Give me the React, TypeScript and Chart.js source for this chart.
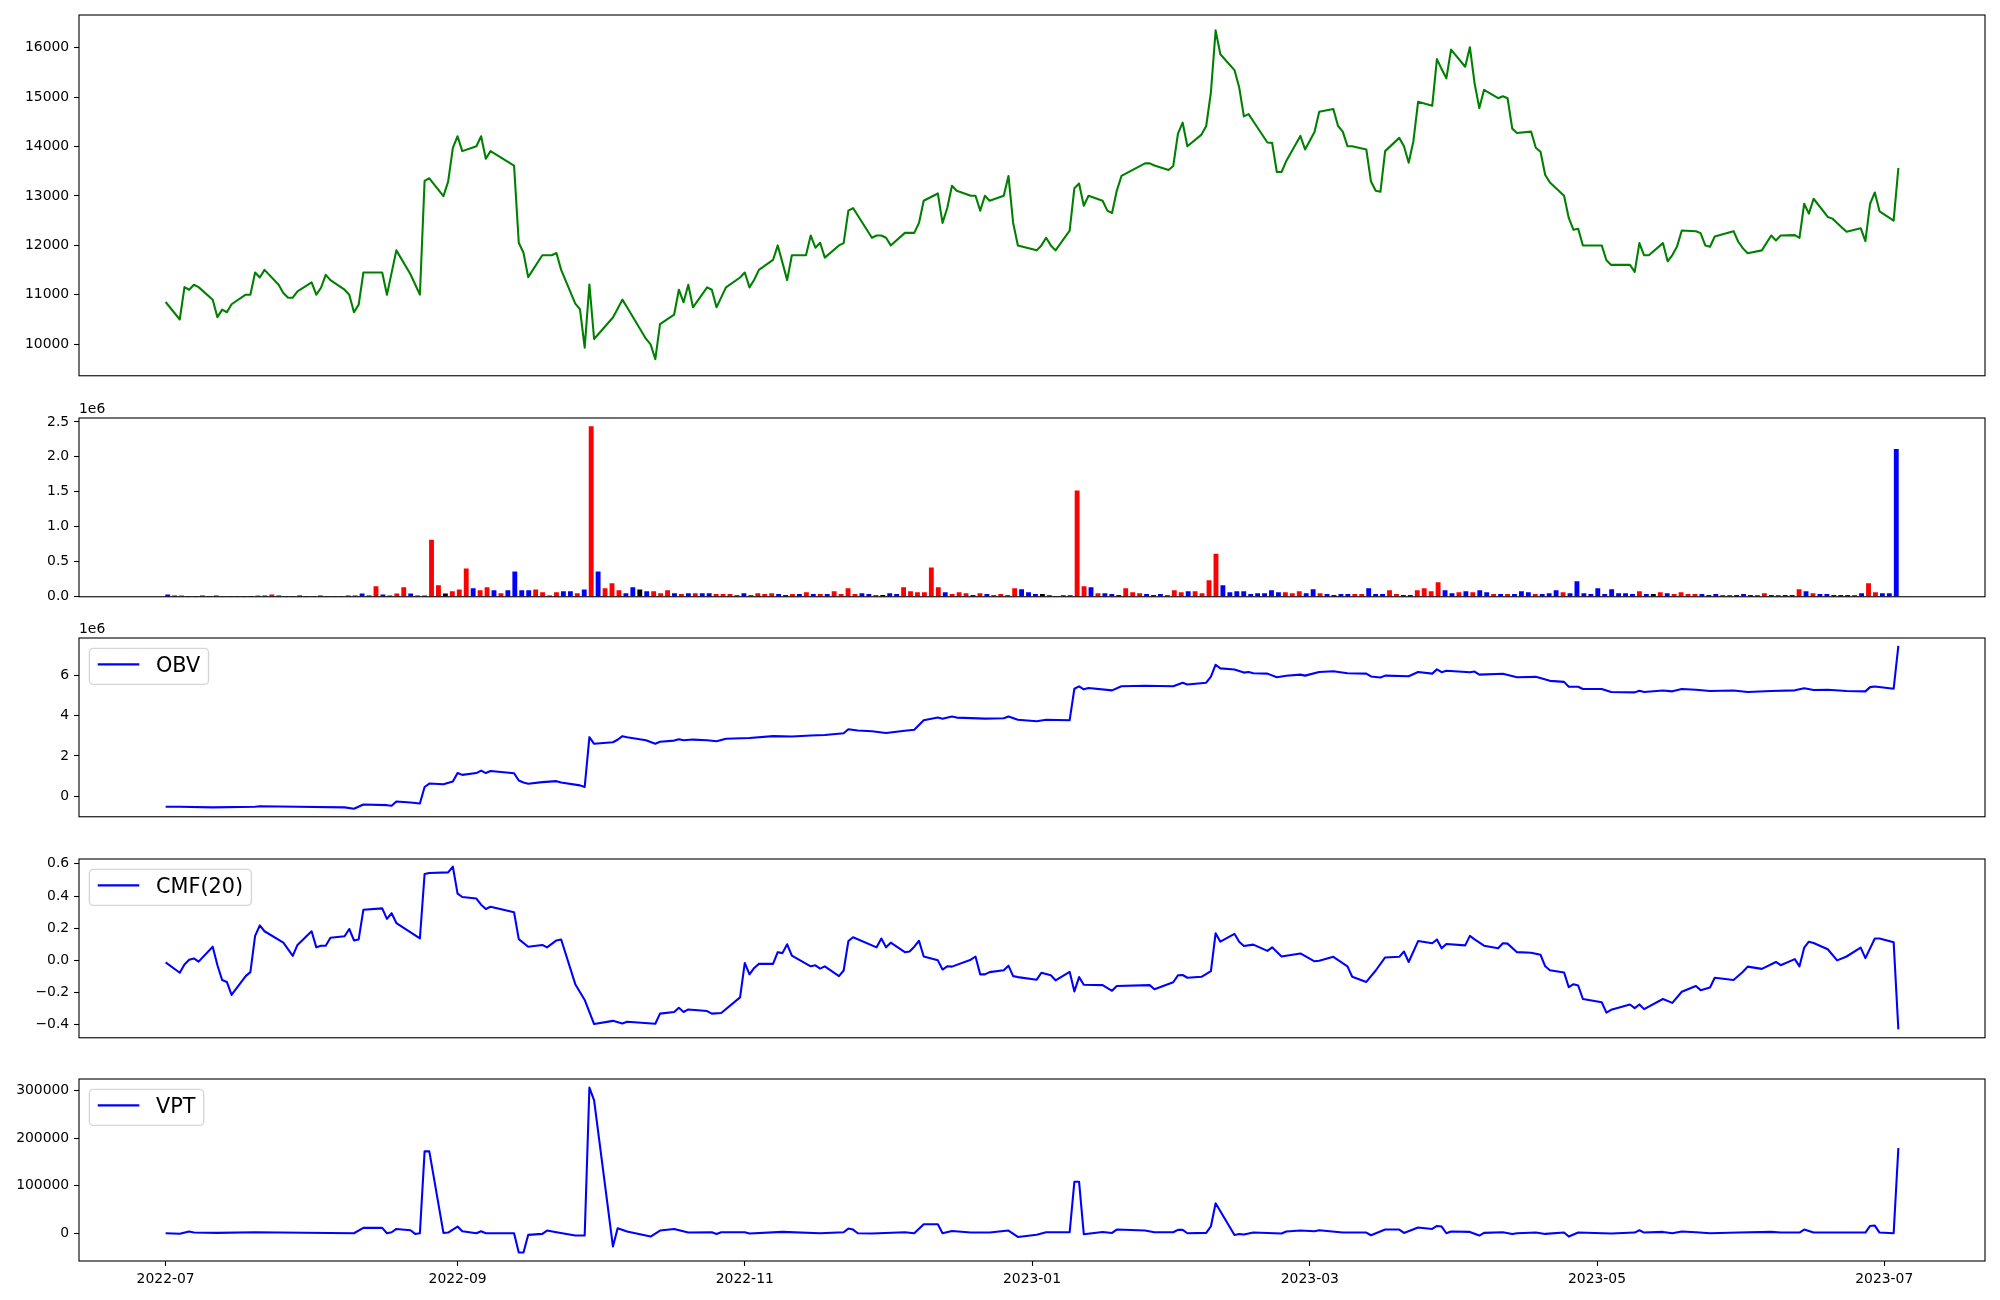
import React, { useEffect, useRef } from 'react';
import { Chart, registerables } from 'chart.js';

Chart.register(...registerables);

// ---------------- calendar (trading days, KRX) ----------------
const firstDate = '2022-07-01';
const lastDate = '2023-07-04';
const holidays = [
  '2022-08-15', '2022-09-09', '2022-09-12', '2022-10-03', '2022-10-10', '2022-12-30',
  '2023-01-23', '2023-01-24', '2023-03-01', '2023-05-01', '2023-05-05', '2023-05-29', '2023-06-06',
];
const xTickDates = ['2022-07-01', '2022-09-01', '2022-11-01', '2023-01-01', '2023-03-01', '2023-05-01', '2023-07-01'];
const xTickLabels = ['2022-07', '2022-09', '2022-11', '2023-01', '2023-03', '2023-05', '2023-07'];

// ---------------- close price (one per trading day) ----------------
const closePrice = [
  10856, 10502, 11157, 11104, 11204, 11157, 10903, 10549, 10702, 10649,
  10810, 11004, 11004, 11452, 11351, 11505, 11204, 11037, 10943, 10943,
  11070, 11251, 11004, 11144, 11405, 11298, 11104, 11004, 10649, 10803,
  11452, 11452, 11004, 11450, 11900, 11418, 11210, 11004, 13305, 13358,
  12997, 13291, 13974, 14208, 13907, 14007, 14208, 13753, 13907, 13613,
  12054, 11853, 11358, 11800, 11800, 11800, 11846, 11505, 10823, 10709,
  9933, 11211, 10107, 10542, 10720, 10903, 10749, 10114, 10000, 9699,
  10408, 10602, 11104, 10850, 11204, 10749, 11151, 11104, 10749, 10950,
  11151, 11351, 11452, 11151, 11305, 11505, 11706, 12000, 11652, 11298,
  11800, 11800, 12201, 11953, 12054, 11753, 12000, 12047, 12703, 12756,
  12606, 12154, 12201, 12201, 12154, 12000, 12254, 12254, 12254, 12455,
  12903, 13051, 12455, 12756, 13205, 13104, 13004, 13004, 12703, 13004,
  12903, 13004, 13405, 12455, 12000, 11900, 12000, 12154, 12000, 11900,
  12301, 13158, 13251, 12803, 13004, 12903, 12703, 12656, 13104, 13405,
  13659, 13659, 13615, 13526, 13606, 14262, 14482, 14007, 14241, 14415,
  15098, 16349, 15867, 15546, 15198, 14609, 14656, 14512, 14081, 14074,
  13485, 13485, 13706, 14215, 13940, 14295, 14703, 14757, 14415, 14300,
  14007, 14007, 13940, 13291, 13104, 13084, 13907, 14175, 14007, 13673,
  14108, 14904, 14823, 15767, 15566, 15379, 15961, 15613, 16008, 15278,
  14777, 15145, 14977, 15018, 14977, 14362, 14275, 14302, 13974, 13894,
  13425, 13271, 13004, 12556, 12315, 12335, 12000, 12000, 11699, 11606,
  11606, 11465, 12047, 11800, 11800, 12047, 11679, 11806, 11980, 12301,
  12288, 12248, 12000, 11974, 12181, 12288, 12074, 11940, 11840, 11900,
  12201, 12101, 12201, 12208, 12154, 12843, 12643, 12944, 12576, 12542,
  12453, 12364, 12275, 12348, 12087, 12843, 13071, 12689, 12502, 13566,
];

// ---------------- volume (one per trading day, drawn by position) ----------------
const volume = [
  28000, 14000, 14000, 0, 0, 14000, 0, 14000, 0, 0,
  0, 0, 0, 14000, 14000, 28000, 14000, 0, 0, 14000,
  0, 0, 14000, 0, 0, 0, 14000, 14000, 42000, 14000,
  146000, 28000, 14000, 42000, 132000, 42000, 14000, 14000, 810000, 160000,
  42000, 75000, 99000, 400000, 118000, 89000, 132000, 89000, 47000, 89000,
  358000, 89000, 89000, 99000, 61000, 14000, 61000, 75000, 75000, 47000,
  99000, 2434000, 358000, 118000, 188000, 89000, 47000, 132000, 99000, 75000,
  75000, 47000, 89000, 47000, 33000, 47000, 47000, 47000, 47000, 33000,
  33000, 33000, 19000, 47000, 19000, 47000, 33000, 47000, 33000, 19000,
  33000, 33000, 61000, 33000, 33000, 33000, 75000, 33000, 118000, 33000,
  47000, 33000, 19000, 19000, 47000, 33000, 132000, 75000, 61000, 61000,
  414000, 132000, 61000, 33000, 61000, 47000, 19000, 47000, 33000, 19000,
  33000, 19000, 118000, 104000, 61000, 33000, 33000, 19000, 0, 19000,
  19000, 1516000, 146000, 132000, 47000, 47000, 33000, 19000, 118000, 61000,
  47000, 33000, 19000, 33000, 19000, 89000, 61000, 75000, 75000, 47000,
  231000, 612000, 160000, 61000, 75000, 75000, 33000, 47000, 47000, 89000,
  61000, 61000, 47000, 75000, 47000, 104000, 47000, 33000, 19000, 33000,
  33000, 33000, 33000, 118000, 33000, 33000, 89000, 33000, 19000, 19000,
  89000, 118000, 75000, 202000, 89000, 47000, 61000, 75000, 61000, 89000,
  61000, 33000, 33000, 33000, 33000, 75000, 61000, 33000, 33000, 47000,
  89000, 61000, 47000, 217000, 47000, 33000, 118000, 33000, 104000, 47000,
  47000, 33000, 75000, 33000, 33000, 61000, 47000, 33000, 61000, 33000,
  33000, 33000, 19000, 33000, 19000, 19000, 19000, 33000, 19000, 19000,
  47000, 19000, 19000, 19000, 19000, 104000, 75000, 47000, 33000, 33000,
  19000, 19000, 19000, 19000, 47000, 188000, 61000, 47000, 47000, 2109000,
];
// 1 = up (red), -1 = down (blue), 0 = unchanged (black)
const volumeDir = [
  -1, -1, 1, 0, 0, -1, 0, -1, 0, 0,
  0, 0, 0, 1, -1, 1, -1, 0, 0, 0,
  0, 0, -1, 0, 0, 0, -1, -1, -1, 0,
  1, -1, -1, 1, 1, -1, -1, -1, 1, 1,
  0, 1, 1, 1, -1, 1, 1, -1, 1, -1,
  -1, -1, -1, 1, 1, -1, 1, -1, -1, 1,
  -1, 1, -1, 1, 1, 1, -1, -1, 0, -1,
  1, 1, 1, -1, 1, -1, 1, -1, -1, 1,
  1, 1, 1, -1, 1, 1, 1, 1, -1, -1,
  1, -1, 1, -1, 1, -1, 1, 1, 1, 1,
  -1, -1, 1, 0, -1, -1, 1, 1, 1, 1,
  1, 1, -1, 1, 1, 1, -1, 1, -1, 1,
  1, 1, 1, -1, -1, -1, 0, 1, 0, 1,
  1, 1, 1, -1, 1, -1, -1, -1, 1, 1,
  1, -1, -1, -1, 1, 1, 1, -1, 1, 1,
  1, 1, -1, -1, -1, -1, -1, -1, -1, -1,
  -1, 1, 1, 1, -1, -1, 1, -1, -1, -1,
  -1, 1, 1, -1, -1, -1, 1, 1, -1, -1,
  1, 1, 1, 1, -1, -1, 1, -1, 1, -1,
  -1, 1, -1, 1, -1, -1, -1, 1, -1, -1,
  -1, 1, -1, -1, -1, -1, -1, -1, -1, -1,
  -1, -1, 1, -1, 0, 1, -1, 1, 1, 1,
  1, -1, -1, -1, 1, 1, -1, -1, -1, 1,
  1, -1, 1, -1, -1, 1, -1, 1, -1, -1,
  -1, -1, -1, 1, -1, 1, 1, -1, -1, -1,
];

// ---------------- OBV (trading-day index, value) ----------------
const obvIdx = [
  0, 1, 6, 13, 14, 20, 26, 28, 30, 32, 33, 34, 35, 37, 38, 39, 40, 42, 43, 44,
  45, 46, 47, 48, 49, 50, 51, 52, 53, 56, 57, 59, 60, 61, 62, 63, 64, 65, 66, 67,
  69, 70, 71, 72, 73, 75, 76, 78, 80, 83, 86, 90, 92, 95, 97, 98, 100, 101, 104, 106,
  108, 110, 111, 112, 114, 115, 119, 121, 122, 124, 125, 127, 130, 131, 132, 133, 134, 137, 139, 140,
  144, 146, 147, 149, 150, 151, 152, 153, 155, 156, 157, 158, 160, 162, 163, 164, 166, 167, 170, 172,
  173, 175, 176, 179, 181, 182, 183, 184, 185, 188, 189, 190, 193, 196, 198, 201, 202, 203, 205, 206,
  207, 209, 211, 212, 213, 215, 217, 219, 220, 223, 225, 228, 230, 233, 235, 237, 238, 242, 244, 245,
  246, 248, 249,
];
const obvVal = [
  -520000, -520000, -550000, -520000, -490000, -520000, -550000, -620000, -410000, -440000,
  -470000, -260000, -310000, -360000, 460000, 630000, 600000, 730000, 1150000, 1060000,
  1150000, 1270000, 1150000, 1250000, 1140000, 780000, 680000, 620000, 700000, 750000,
  680000, 540000, 460000, 2930000, 2600000, 2680000, 2800000, 2980000, 2930000, 2780000,
  2600000, 2700000, 2760000, 2830000, 2780000, 2810000, 2780000, 2730000, 2850000, 2890000,
  2980000, 2960000, 3010000, 3040000, 3120000, 3320000, 3260000, 3220000, 3140000, 3250000,
  3300000, 3770000, 3900000, 3840000, 3950000, 3900000, 3850000, 3870000, 3950000, 3790000,
  3720000, 3790000, 3770000, 5330000, 5450000, 5300000, 5370000, 5250000, 5450000, 5480000,
  5450000, 5630000, 5540000, 5630000, 5930000, 6520000, 6340000, 6280000, 6130000, 6160000,
  6100000, 6080000, 5900000, 5970000, 6030000, 5980000, 6160000, 6200000, 6100000, 6080000,
  5940000, 5890000, 5980000, 5950000, 6160000, 6080000, 6290000, 6150000, 6220000, 6150000,
  6180000, 6030000, 6070000, 5900000, 5920000, 5720000, 5670000, 5430000, 5430000, 5320000,
  5320000, 5170000, 5150000, 5230000, 5170000, 5240000, 5200000, 5320000, 5280000, 5220000,
  5240000, 5170000, 5220000, 5250000, 5350000, 5270000, 5280000, 5220000, 5200000, 5410000,
  5440000, 5330000, 7450000,
];

// ---------------- CMF(20) ----------------
const cmfIdx = [
  0, 1, 2, 3, 4, 5, 6, 7, 8, 9, 10, 11, 12, 13, 14, 15, 17, 19, 20, 21,
  22, 23, 24, 25, 26, 27, 28, 29, 30, 31, 32, 33, 34, 37, 38, 39, 41, 42, 43, 44,
  45, 46, 47, 48, 49, 50, 52, 53, 54, 56, 57, 58, 60, 62, 63, 65, 66, 69, 70, 71,
  72, 73, 74, 76, 77, 79, 81, 82, 83, 84, 85, 86, 87, 88, 89, 90, 92, 93, 94, 95,
  96, 97, 98, 99, 102, 103, 104, 105, 106, 107, 108, 109, 110, 111, 112, 113, 114, 116, 117, 118,
  119, 120, 121, 122, 123, 124, 125, 126, 128, 129, 130, 131, 132, 133, 135, 137, 138, 141, 142, 144,
  145, 146, 147, 148, 150, 151, 152, 153, 154, 155, 157, 158, 159, 161, 163, 165, 166, 167, 170, 171,
  172, 174, 176, 177, 178, 179, 181, 182, 183, 184, 185, 187, 188, 189, 191, 192, 193, 194, 196, 197,
  199, 200, 201, 202, 203, 204, 205, 206, 207, 208, 209, 210, 211, 212, 213, 215, 217, 219, 220, 221,
  223, 224, 225, 227, 228, 229, 231, 232, 233, 234, 235, 236, 237, 238, 240, 242, 243, 244, 246, 247,
  248, 249,
];
const cmfVal = [
  -0.012, -0.077, -0.026, 0.004, 0.012, -0.008, 0.085, -0.03, -0.122, -0.134,
  -0.215, -0.098, -0.073, 0.152, 0.217, 0.181, 0.110, 0.028, 0.096, 0.181,
  0.081, 0.091, 0.091, 0.140, 0.150, 0.195, 0.124, 0.130, 0.315, 0.323,
  0.258, 0.293, 0.232, 0.136, 0.537, 0.543, 0.547, 0.583, 0.415, 0.394,
  0.384, 0.346, 0.319, 0.333, 0.299, 0.132, 0.085, 0.096, 0.081, 0.124,
  0.130, -0.148, -0.246, -0.396, -0.376, -0.392, -0.382, -0.394, -0.331, -0.321,
  -0.295, -0.321, -0.305, -0.315, -0.331, -0.327, -0.230, -0.016, -0.087, -0.047,
  -0.022, -0.022, 0.051, 0.045, 0.100, 0.030, -0.037, -0.031, -0.051, -0.037,
  -0.098, -0.063, 0.120, 0.144, 0.081, 0.136, 0.081, 0.110, 0.051, 0.055,
  0.085, 0.122, 0.024, 0.0, -0.057, -0.037, -0.039, 0.004, 0.024, -0.087,
  -0.087, -0.073, -0.061, -0.033, -0.098, -0.104, -0.120, -0.077, -0.093, -0.124,
  -0.071, -0.193, -0.104, -0.152, -0.154, -0.189, -0.159, -0.154, -0.179, -0.136,
  -0.093, -0.091, -0.108, -0.102, -0.067, 0.169, 0.116, 0.165, 0.116, 0.089,
  0.098, 0.059, 0.081, 0.024, 0.043, -0.006, -0.002, 0.022, -0.037, -0.102,
  -0.134, -0.063, 0.018, 0.022, 0.055, -0.010, 0.120, 0.106, 0.130, 0.075,
  0.102, 0.093, 0.152, 0.130, 0.091, 0.075, 0.106, 0.104, 0.051, 0.047,
  0.035, -0.037, -0.061, -0.075, -0.167, -0.148, -0.156, -0.240, -0.260, -0.325,
  -0.307, -0.274, -0.297, -0.274, -0.303, -0.240, -0.264, -0.195, -0.159, -0.185,
  -0.169, -0.108, -0.122, -0.071, -0.039, -0.053, -0.010, -0.030, 0.008, -0.037,
  0.079, 0.116, 0.108, 0.069, 0.0, 0.024, 0.079, 0.014, 0.136, 0.136,
  0.112, -0.429,
];

// ---------------- VPT ----------------
const vptIdx = [
  0, 1, 3, 4, 7, 13, 28, 30, 31, 32, 33, 34, 35, 36, 37, 38, 39, 40, 41, 43,
  44, 45, 46, 47, 49, 50, 51, 52, 53, 54, 56, 58, 60, 61, 62, 63, 64, 66, 68, 70,
  71, 74, 77, 78, 79, 82, 83, 88, 94, 97, 98, 99, 100, 101, 106, 108, 110, 111, 112, 114,
  116, 120, 122, 124, 125, 127, 130, 131, 132, 133, 135, 137, 138, 140, 142, 144, 145, 146, 147, 149,
  150, 151, 153, 154, 155, 157, 161, 162, 163, 165, 166, 169, 172, 173, 176, 177, 178, 181, 182, 183,
  184, 185, 186, 188, 190, 191, 193, 195, 196, 198, 200, 202, 203, 205, 209, 211, 212, 213, 215, 217,
  219, 220, 223, 226, 230, 232, 234, 235, 237, 239, 244, 245, 246, 247, 248, 249,
];
const vptVal = [
  0, -1000, 3500, 1400, 700, 2000, 0, 11200, 11200, 0,
  2100, 9000, 6300, -1400, 0, 172000, 172000, 700, 1400, 14000,
  4000, 0, 4200, 0, 0, -40600, -40600, -3500, -1400, 5600,
  2100, -4900, -4900, 306000, 279000, -28000, 10500, 3500, -7000, 5600,
  9000, 1400, 2100, -1400, 2100, 2100, -700, 2800, 0, 2100,
  9800, 7700, 0, -700, 2100, 0, 18900, 18900, 0, 4900,
  1400, 1400, 5600, -7700, -3000, 2100, 2100, 108000, 108000, -2000,
  2800, 700, 7700, 5600, 2100, 2100, 7000, 7000, 0, 700,
  14700, 63000, -3500, -1400, -2800, 1400, -700, 3500, 5600, 4200,
  6300, 1400, 1400, -4200, 7700, 7700, 700, 11900, 9100, 15400,
  14000, 0, 3500, 2800, -4900, 700, 2100, -1400, 0, 1400,
  -1400, 1400, -7000, 1400, -700, 1400, 6300, 1400, 2800, 0,
  3500, 2100, 0, 1400, 2800, 1400, 1400, 7700, 1400, 1400,
  1400, 15400, 16100, 1400, 0, 179000,
];

// ---------------- helpers ----------------
const DAY_MS = 86400000;
const T0 = Date.parse(firstDate + 'T00:00:00Z');
const dayOf = (s: string) => Math.round((Date.parse(s + 'T00:00:00Z') - T0) / DAY_MS);

function buildTradingDays(): number[] {
  const hol = new Set(holidays.map(dayOf));
  const end = dayOf(lastDate);
  const out: number[] = [];
  for (let d = 0; d <= end; d++) {
    const wd = new Date(T0 + d * DAY_MS).getUTCDay();
    if (wd === 0 || wd === 6 || hol.has(d)) continue;
    out.push(d);
  }
  return out;
}

const X_MIN = -18.4;
const X_MAX = 386.4;
// volume panel is drawn against the bar position (0..N-1)
const BAR_X_MIN = -12.78;
const BAR_X_MAX = 261.78;
const Y_AXIS_W = 79;
const RIGHT_PAD = 15;
const FONT = 'DejaVu Sans';
const TICK_FONT = { family: FONT, size: 13.9 };
const LEGEND_FS = 20.8;

const PANELS = [
  { top: 15, h: 364, padTop: 15, padBottom: 10 },
  { top: 418, h: 182, padTop: 30, padBottom: 10 },
  { top: 638, h: 182, padTop: 30, padBottom: 10 },
  { top: 859, h: 182, padTop: 30, padBottom: 10 },
  { top: 1079, h: 182, padTop: 30, padBottom: 40 },
];

const framePlugin = {
  id: 'frame',
  afterDraw(chart: any) {
    const { ctx, chartArea: a } = chart;
    ctx.save();
    ctx.strokeStyle = '#000';
    ctx.lineWidth = 1.1;
    ctx.strokeRect(a.left, a.top, a.right - a.left, a.bottom - a.top);
    ctx.restore();
  },
};

function offsetTextPlugin(text: string) {
  return {
    id: 'offsetText',
    afterDraw(chart: any) {
      const { ctx, chartArea: a } = chart;
      ctx.save();
      ctx.font = `13.9px "${FONT}"`;
      ctx.fillStyle = '#000';
      ctx.textAlign = 'left';
      ctx.textBaseline = 'alphabetic';
      ctx.fillText(text, a.left, a.top - 5.3);
      ctx.restore();
    },
  };
}

function boxLegendPlugin(label: string, color: string) {
  return {
    id: 'boxLegend',
    afterDraw(chart: any) {
      const { ctx, chartArea: a } = chart;
      const fs = LEGEND_FS;
      ctx.save();
      ctx.font = `${fs}px "${FONT}"`;
      const tw = ctx.measureText(label).width;
      const x = a.left + 0.5 * fs;
      const y = a.top + 0.5 * fs;
      const w = 0.4 * fs + 2 * fs + 0.8 * fs + tw + 0.4 * fs;
      const h = 36;
      const r = 4;
      ctx.beginPath();
      ctx.moveTo(x + r, y);
      ctx.lineTo(x + w - r, y);
      ctx.arcTo(x + w, y, x + w, y + r, r);
      ctx.lineTo(x + w, y + h - r);
      ctx.arcTo(x + w, y + h, x + w - r, y + h, r);
      ctx.lineTo(x + r, y + h);
      ctx.arcTo(x, y + h, x, y + h - r, r);
      ctx.lineTo(x, y + r);
      ctx.arcTo(x, y, x + r, y, r);
      ctx.closePath();
      ctx.fillStyle = 'rgba(255,255,255,0.8)';
      ctx.fill();
      ctx.strokeStyle = 'rgba(204,204,204,0.8)';
      ctx.lineWidth = 1.4;
      ctx.stroke();
      const cy = y + 16;
      const hx = x + 0.4 * fs;
      ctx.beginPath();
      ctx.moveTo(hx, cy);
      ctx.lineTo(hx + 2 * fs, cy);
      ctx.strokeStyle = color;
      ctx.lineWidth = 2.08;
      ctx.stroke();
      ctx.fillStyle = '#000';
      ctx.textAlign = 'left';
      ctx.textBaseline = 'alphabetic';
      ctx.fillText(label, hx + 2 * fs + 0.8 * fs, cy + 0.365 * fs);
      ctx.restore();
    },
  };
}

function yScale(min: number, max: number, ticks: number[], fmt: (v: number) => string) {
  return {
    type: 'linear',
    position: 'left',
    min,
    max,
    afterFit: (s: any) => {
      s.width = Y_AXIS_W;
    },
    afterBuildTicks: (s: any) => {
      s.ticks = ticks.map((v) => ({ value: v }));
    },
    ticks: {
      callback: (v: any) => fmt(Number(v)),
      font: TICK_FONT,
      color: '#000',
      padding: 4.9,
      autoSkip: false,
    },
    grid: {
      display: true,
      drawOnChartArea: false,
      drawTicks: true,
      tickLength: 4.9,
      tickWidth: 1.1,
      tickColor: '#000',
      color: '#000',
    },
    border: { display: false },
  };
}

function hiddenX(min: number, max: number) {
  return { type: 'linear', min, max, display: false, offset: false };
}

function bottomX() {
  const tickDays = xTickDates.map(dayOf);
  return {
    type: 'linear',
    position: 'bottom',
    min: X_MIN,
    max: X_MAX,
    offset: false,
    afterFit: (s: any) => {
      s.height = 40;
    },
    afterBuildTicks: (s: any) => {
      s.ticks = tickDays.map((v) => ({ value: v }));
    },
    ticks: {
      callback: (_v: any, i: number) => xTickLabels[i],
      font: TICK_FONT,
      color: '#000',
      padding: 4.9,
      autoSkip: false,
      maxRotation: 0,
      minRotation: 0,
    },
    grid: {
      display: true,
      drawOnChartArea: false,
      drawTicks: true,
      tickLength: 4.9,
      tickWidth: 1.1,
      tickColor: '#000',
      color: '#000',
      offset: false,
    },
    border: { display: false },
  };
}

function baseOptions(p: { padTop: number; padBottom: number }, isBottom: boolean, x: any, y: any) {
  return {
    responsive: false,
    animation: false,
    devicePixelRatio: 1,
    events: [],
    layout: { padding: { left: 0, right: RIGHT_PAD, top: p.padTop, bottom: isBottom ? 0 : p.padBottom } },
    plugins: { legend: { display: false }, tooltip: { enabled: false } },
    scales: { x, y },
  };
}

const lineDs = (label: string, pts: { x: number; y: number }[], color: string) => ({
  type: 'line',
  label,
  data: pts,
  borderColor: color,
  backgroundColor: color,
  borderWidth: 2.08,
  pointRadius: 0,
  pointHoverRadius: 0,
  tension: 0,
  fill: false,
  borderJoinStyle: 'round',
  borderCapStyle: 'butt',
});

export default function App() {
  const r0 = useRef<HTMLCanvasElement>(null);
  const r1 = useRef<HTMLCanvasElement>(null);
  const r2 = useRef<HTMLCanvasElement>(null);
  const r3 = useRef<HTMLCanvasElement>(null);
  const r4 = useRef<HTMLCanvasElement>(null);
  const refs = [r0, r1, r2, r3, r4];

  useEffect(() => {
    const days = buildTradingDays();
    const charts: Chart[] = [];

    const pricePts = closePrice.map((v, i) => ({ x: days[i], y: v }));
    const volPts = volume.map((v, i) => ({ x: i, y: v }));
    const volColors = volumeDir.map((d) => (d > 0 ? '#ff0000' : d < 0 ? '#0000ff' : '#000000'));
    const obvPts = obvIdx.map((k, i) => ({ x: days[k], y: obvVal[i] }));
    const cmfPts = cmfIdx.map((k, i) => ({ x: days[k], y: cmfVal[i] }));
    const vptPts = vptIdx.map((k, i) => ({ x: days[k], y: vptVal[i] }));

    const minus = (s: string) => s.replace('-', '\u2212');

    // Panel 1: price
    charts.push(
      new Chart(r0.current as HTMLCanvasElement, {
        type: 'line',
        data: { datasets: [lineDs('Close', pricePts, '#008000') as any] },
        options: baseOptions(
          PANELS[0],
          false,
          hiddenX(X_MIN, X_MAX),
          yScale(9364, 16660, [10000, 11000, 12000, 13000, 14000, 15000, 16000], (v) => String(v)),
        ) as any,
        plugins: [framePlugin],
      }),
    );

    // Panel 2: volume bars
    charts.push(
      new Chart(r1.current as HTMLCanvasElement, {
        type: 'bar',
        data: {
          datasets: [
            {
              label: 'Volume',
              data: volPts as any,
              backgroundColor: volColors,
              borderWidth: 0,
              barThickness: 4.2,
            } as any,
          ],
        },
        options: baseOptions(
          PANELS[1],
          false,
          hiddenX(BAR_X_MIN, BAR_X_MAX),
          yScale(0, 2556000, [0, 500000, 1000000, 1500000, 2000000, 2500000], (v) => (v / 1e6).toFixed(1)),
        ) as any,
        plugins: [framePlugin, offsetTextPlugin('1e6')],
      }),
    );

    // Panel 3: OBV
    charts.push(
      new Chart(r2.current as HTMLCanvasElement, {
        type: 'line',
        data: { datasets: [lineDs('OBV', obvPts, '#0000ff') as any] },
        options: baseOptions(
          PANELS[2],
          false,
          hiddenX(X_MIN, X_MAX),
          yScale(-1015000, 7845000, [0, 2000000, 4000000, 6000000], (v) => (v / 1e6).toFixed(0)),
        ) as any,
        plugins: [framePlugin, offsetTextPlugin('1e6'), boxLegendPlugin('OBV', '#0000ff')],
      }),
    );

    // Panel 4: CMF
    charts.push(
      new Chart(r3.current as HTMLCanvasElement, {
        type: 'line',
        data: { datasets: [lineDs('CMF(20)', cmfPts, '#0000ff') as any] },
        options: baseOptions(
          PANELS[3],
          false,
          hiddenX(X_MIN, X_MAX),
          yScale(-0.481, 0.63, [-0.4, -0.2, 0, 0.2, 0.4, 0.6], (v) => minus(v.toFixed(1))),
        ) as any,
        plugins: [framePlugin, boxLegendPlugin('CMF(20)', '#0000ff')],
      }),
    );

    // Panel 5: VPT
    charts.push(
      new Chart(r4.current as HTMLCanvasElement, {
        type: 'line',
        data: { datasets: [lineDs('VPT', vptPts, '#0000ff') as any] },
        options: baseOptions(
          PANELS[4],
          true,
          bottomX(),
          yScale(-58300, 324000, [0, 100000, 200000, 300000], (v) => String(v)),
        ) as any,
        plugins: [framePlugin, boxLegendPlugin('VPT', '#0000ff')],
      }),
    );

    return () => {
      charts.forEach((c) => c.destroy());
    };
  }, []);

  return (
    <div style={{ position: 'fixed', left: 0, top: 0, width: 2000, height: 1300, background: '#fff' }}>
      {PANELS.map((p, i) => {
        const hh = p.h + p.padTop + p.padBottom;
        return (
          <canvas
            key={i}
            ref={refs[i]}
            width={2000}
            height={hh}
            style={{ position: 'absolute', left: 0, top: p.top - p.padTop, width: 2000, height: hh, display: 'block' }}
          />
        );
      })}
    </div>
  );
}
